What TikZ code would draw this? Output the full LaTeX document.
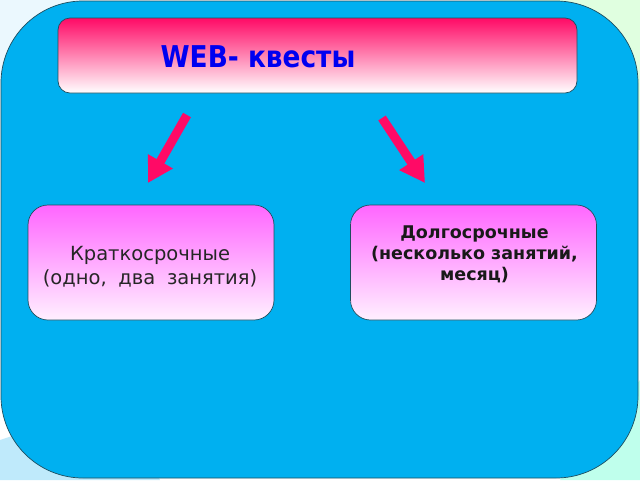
\documentclass[tikz,border=0pt]{standalone}
\usepackage{fontspec}
\setmainfont{DejaVu Sans}
\usetikzlibrary{arrows.meta}
\definecolor{bgblue}{HTML}{00B0F0}
\definecolor{edge}{HTML}{1F4E5F}
\definecolor{arrowred}{HTML}{FF0A66}
\definecolor{titletop}{HTML}{FF0A66}
\definecolor{boxtop}{HTML}{FF66FF}
\definecolor{boxbot}{HTML}{FFF0FF}
\definecolor{titleblue}{HTML}{0000F0}
\tikzset{
  titlebox/.style={draw=edge, line width=0.7pt, rounded corners=12pt, top color=titletop, bottom color=white, minimum width=519pt, minimum height=75pt, inner sep=0pt},
  catbox/.style={draw=edge, line width=0.7pt, rounded corners=20pt, top color=boxtop, bottom color=boxbot, minimum width=246pt, minimum height=115pt, inner sep=0pt},
  bigarrow/.style={draw=arrowred, line width=9pt, -{Triangle[width=27pt,length=25pt]}, shorten >=0pt}
}
\begin{document}
\begin{tikzpicture}[x=1pt,y=-1pt]
\useasboundingbox (0,0) rectangle (640,480);
% background corners
\fill[white] (0,0) rectangle (640,480);
\fill[cyan!8] (0,0) rectangle (150,150);
\fill[green!12!white] (490,0) rectangle (640,150);
\fill[cyan!25!white] (0,440) -- (120,400) -- (160,480) -- (0,480) -- cycle;
\fill[green!30!cyan!25!white] (640,380) -- (640,480) -- (560,480) -- cycle;
% main panel
\fill[bgblue, draw=edge, line width=0.7pt, rounded corners=82pt] (1,1) rectangle (638,478);
% title
\node[titlebox] (title) at (317.5,55.5) {};
\node[font=\bfseries\fontsize{30}{34}\selectfont, text=titleblue, xscale=0.88] (titletext) at (258,57) {WEB- квесты};
% boxes
\node[catbox] (short) at (151,262.5) {};
\node[catbox] (long) at (473.5,262.5) {};
\node[font=\fontsize{19.5}{24}\selectfont, align=center, text=black!85] (shorttext) at (150,267) {Краткосрочные\\(одно,\hspace{0.6em}два\hspace{0.6em}занятия)};
\node[font=\bfseries\fontsize{17.5}{21}\selectfont, align=center, text=black!90, anchor=north] (longtext) at (474.5,222) {Долгосрочные\\(несколько занятий,\\месяц)};
% arrows
\coordinate (la) at (187,115);
\coordinate (lb) at (148,183);
\coordinate (ra) at (382,118);
\coordinate (rb) at (425,183);
\draw[bigarrow] (la) -- (lb);
\draw[bigarrow] (ra) -- (rb);
\end{tikzpicture}
\end{document}
